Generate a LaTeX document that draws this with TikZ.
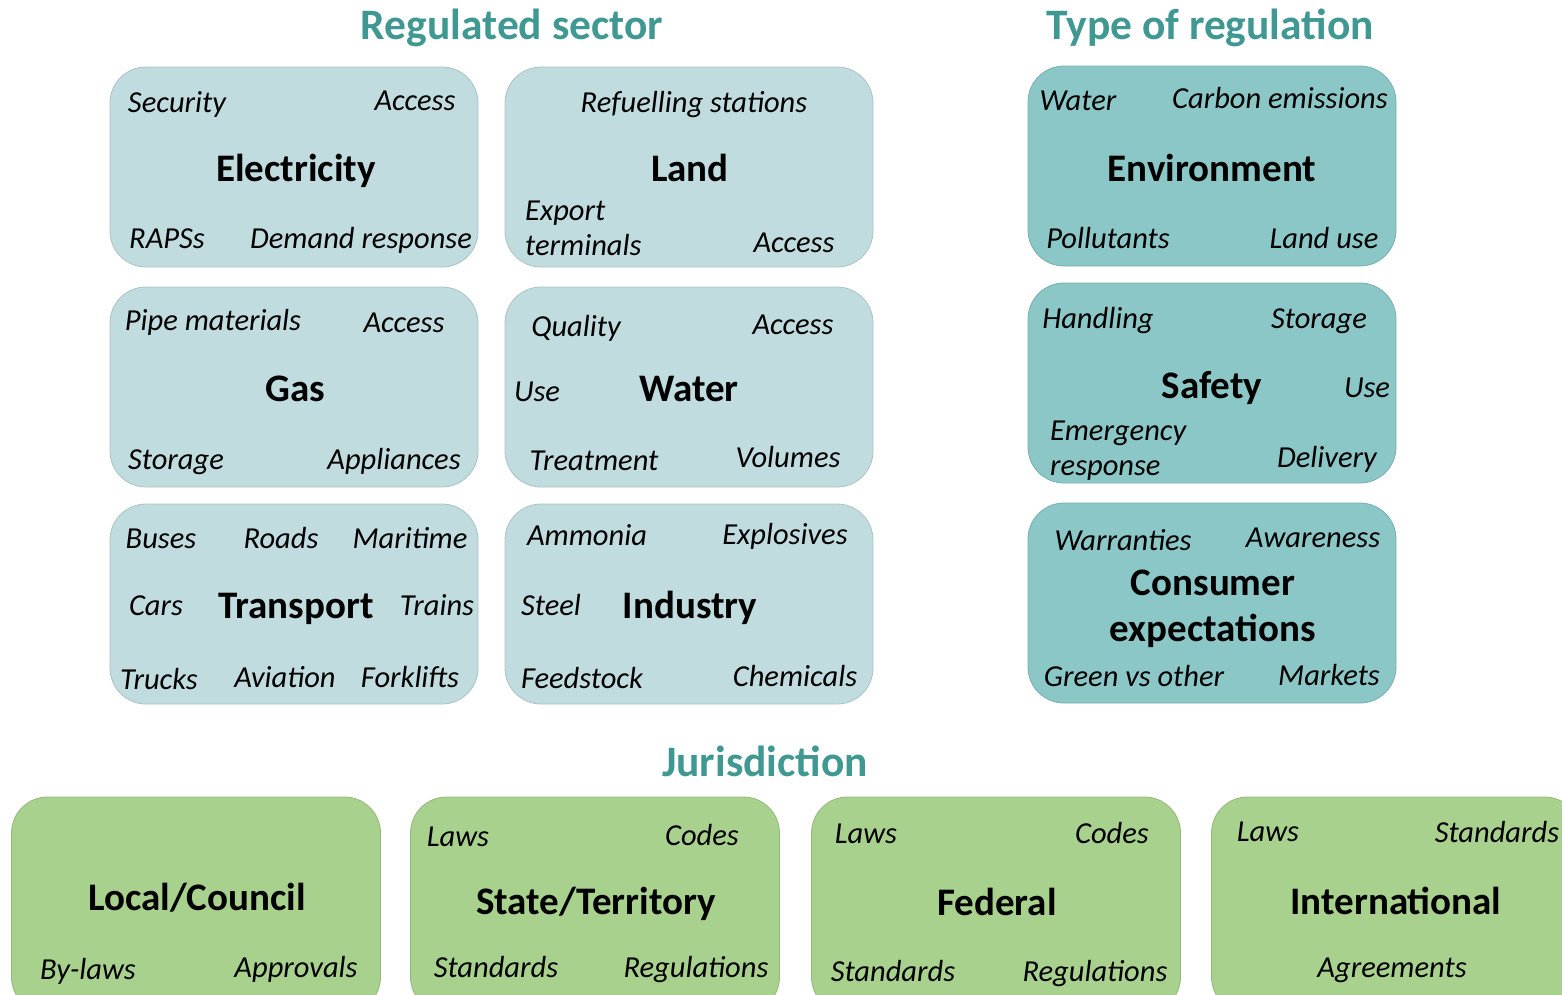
\documentclass[tikz,border=0pt]{standalone}
\usepackage{fontspec}
\setmainfont{Carlito}
\definecolor{titlecol}{RGB}{64,152,146}
\definecolor{lightblue}{RGB}{193,220,223}
\definecolor{teal}{RGB}{139,199,198}
\definecolor{green}{RGB}{169,209,142}
\tikzset{
  card/.style={draw=#1!88!black, fill=#1, line width=0.8pt, rounded corners=36pt, inner sep=0pt},
  cardblue/.style={card=lightblue, minimum width=368pt, minimum height=200pt},
  cardteal/.style={card=teal, minimum width=368pt, minimum height=200pt},
  cardgreen/.style={card=green, minimum width=369pt, minimum height=216pt},
  sm/.style={font=\fontsize{30.5}{36}\selectfont\itshape, anchor=mid, inner sep=0pt, align=left, yshift=-8pt},
  big/.style={font=\fontsize{39}{46}\selectfont\bfseries, anchor=mid, inner sep=0pt, align=center, yshift=-11pt},
  ttl/.style={font=\fontsize{43.5}{50}\selectfont\bfseries, text=titlecol, anchor=mid, inner sep=0pt, yshift=-12pt},
}
\begin{document}
\begin{tikzpicture}[x=1pt,y=-1pt]
\useasboundingbox (0,0) rectangle (1562,994);
\begin{scope}
\clip (0,0) rectangle (1562,994);
% titles
\node[ttl] (t1) at (512,25) {Regulated sector};
\node[ttl] (t2) at (1210,25) {Type of regulation};
\node[ttl] (t3) at (765,762) {Jurisdiction};
% regulated sector cards
\node[cardblue] (elec) at (294,167) {};
\node[cardblue] (land) at (689,167) {};
\node[cardblue] (gas) at (294,387) {};
\node[cardblue] (water) at (689,387) {};
\node[cardblue] (trans) at (294,604) {};
\node[cardblue] (ind) at (689,604) {};
% type cards
\node[cardteal] (env) at (1212,166) {};
\node[cardteal] (safe) at (1212,383) {};
\node[cardteal] (cons) at (1212,603) {};
% jurisdiction cards
\node[cardgreen] (loc) at (196,905) {};
\node[cardgreen] (state) at (595,905) {};
\node[cardgreen] (fed) at (996,905) {};
\node[cardgreen] (intl) at (1396,905) {};
% Electricity
\node[sm] (e1) at (177,102) {Security};
\node[sm] (e2) at (415,100) {Access};
\node[big] (e0) at (296,168) {Electricity};
\node[sm] (e3) at (167,238) {RAPSs};
\node[sm] (e4) at (361,238) {Demand response};
% Land
\node[sm] (l1) at (694,102) {Refuelling stations};
\node[big] (l0) at (690,168) {Land};
\node[sm, anchor=north west] (l2) at (525,193) {Export\\[-1pt]terminals};
\node[sm] (l3) at (794,242) {Access};
% Gas
\node[sm] (g1) at (213,320) {Pipe materials};
\node[sm] (g2) at (404,322) {Access};
\node[big] (g0) at (295,388) {Gas};
\node[sm] (g3) at (176,459) {Storage};
\node[sm] (g4) at (394,459) {Appliances};
% Water
\node[sm] (w1) at (576,326) {Quality};
\node[sm] (w2) at (793,324) {Access};
\node[sm] (w3) at (537,391) {Use};
\node[big] (w0) at (689,388) {Water};
\node[sm] (w4) at (594,460) {Treatment};
\node[sm] (w5) at (788,457) {Volumes};
% Transport
\node[sm] (tr1) at (161,538) {Buses};
\node[sm] (tr2) at (281,538) {Roads};
\node[sm] (tr3) at (410,538) {Maritime};
\node[sm] (tr4) at (156,605) {Cars};
\node[big] (tr0) at (296,605) {Transport};
\node[sm] (tr5) at (437,605) {Trains};
\node[sm] (tr6) at (159,679) {Trucks};
\node[sm] (tr7) at (285,677) {Aviation};
\node[sm] (tr8) at (410,677) {Forklifts};
% Industry
\node[sm] (i1) at (587,535) {Ammonia};
\node[sm] (i2) at (785,534) {Explosives};
\node[sm] (i3) at (551,605) {Steel};
\node[big] (i0) at (690,605) {Industry};
\node[sm] (i4) at (582,678) {Feedstock};
\node[sm] (i5) at (795,676) {Chemicals};
% Environment
\node[sm] (en1) at (1078,100) {Water};
\node[sm] (en2) at (1280,98) {Carbon emissions};
\node[big] (en0) at (1212,168) {Environment};
\node[sm] (en3) at (1108,238) {Pollutants};
\node[sm] (en4) at (1324,238) {Land use};
% Safety
\node[sm] (s1) at (1098,318) {Handling};
\node[sm] (s2) at (1319,318) {Storage};
\node[big] (s0) at (1212,385) {Safety};
\node[sm] (s3) at (1367,387) {Use};
\node[sm, anchor=north west] (s4) at (1050,413) {Emergency\\[-1pt]response};
\node[sm] (s5) at (1327,457) {Delivery};
% Consumer
\node[sm] (c1) at (1123,540) {Warranties};
\node[sm] (c2) at (1313,537) {Awareness};
\node[big] (c0) at (1213,582) {Consumer};
\node[big] (c0b) at (1213,628) {expectations};
\node[sm] (c3) at (1134,676) {Green vs other};
\node[sm] (c4) at (1329,675) {Markets};
% Local
\node[big] (lc0) at (197,897) {Local/Council};
\node[sm] (lc1) at (88,969) {By-laws};
\node[sm] (lc2) at (296,967) {Approvals};
% State
\node[sm] (st1) at (458,836) {Laws};
\node[sm] (st2) at (702,835) {Codes};
\node[big] (st0) at (596,901) {State/Territory};
\node[sm] (st3) at (496,967) {Standards};
\node[sm] (st4) at (696,967) {Regulations};
% Federal
\node[sm] (f1) at (866,833) {Laws};
\node[sm] (f2) at (1112,833) {Codes};
\node[big] (f0) at (997,902) {Federal};
\node[sm] (f3) at (893,971) {Standards};
\node[sm] (f4) at (1095,971) {Regulations};
% International
\node[sm] (in1) at (1268,831) {Laws};
\node[sm] (in2) at (1497,832) {Standards};
\node[big] (in0) at (1396,901) {International};
\node[sm] (in3) at (1392,967) {Agreements};
\end{scope}
\end{tikzpicture}
\end{document}
